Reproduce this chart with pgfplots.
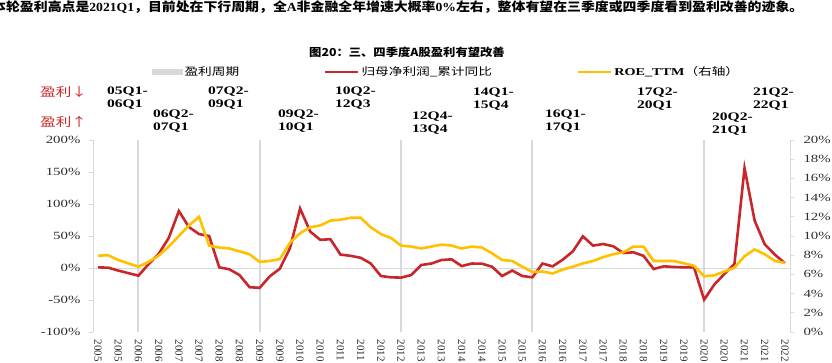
\documentclass[border=0pt]{standalone}
\usepackage{fontspec}
\usepackage{pgfplots}
\pgfplotsset{compat=1.18}
\setmainfont{Liberation Serif}
\newfontfamily\cjkA{Noto Sans CJK SC}[FakeStretch=1.12]
\newfontfamily\cjkW{Noto Sans CJK SC}[FakeStretch=1.3]
\newfontfamily\serW{Liberation Serif}[FakeStretch=1.35]
\newfontfamily\serA{Liberation Serif}[FakeStretch=1.1]
\definecolor{redl}{RGB}{200,38,43}
\definecolor{yell}{RGB}{255,192,0}
\definecolor{gridgray}{RGB}{217,217,217}
\definecolor{cyclegray}{RGB}{217,217,217}
\definecolor{tickcol}{RGB}{45,45,45}
\definecolor{labred}{RGB}{200,40,40}
\newcommand\cyc[4]{\node[anchor=north west, align=left, inner sep=0pt, font=\fontsize{11.5}{12.5}\selectfont\serW\bfseries] at (#1pt,-#2pt) {#3\\#4};}
\begin{document}
\begin{tikzpicture}
\useasboundingbox (0pt,0pt) rectangle (832pt,-362pt);
\clip (0pt,0pt) rectangle (832pt,-362pt);
\node[anchor=west, inner sep=0pt] at (-8pt,-7pt) {\fontsize{12.4}{14}\selectfont\cjkA\bfseries 本轮盈利高点是{\serA 2021Q1}，目前处在下行周期，全{\serA A}非金融全年增速大概率{\serA 0\%}左右，整体有望在三季度或四季度看到盈利改善的迹象。};
\node at (407pt,-52pt) {\fontsize{11}{13}\selectfont\cjkA\bfseries 图20：三、四季度A股盈利有望改善};
\node[anchor=west, inner sep=0pt, text=labred] at (40pt,-92pt) {\fontsize{12}{13}\selectfont\cjkW 盈利↓};
\node[anchor=west, inner sep=0pt, text=labred] at (40pt,-122pt) {\fontsize{12}{13}\selectfont\cjkW 盈利↑};
\cyc{107}{87}{05Q1-}{06Q1}
\cyc{153}{110}{06Q2-}{07Q1}
\cyc{208}{87}{07Q2-}{09Q1}
\cyc{278}{110}{09Q2-}{10Q1}
\cyc{335}{87}{10Q2-}{12Q3}
\cyc{412}{112}{12Q4-}{13Q4}
\cyc{473}{88}{14Q1-}{15Q4}
\cyc{545}{110}{16Q1-}{17Q1}
\cyc{637}{88}{17Q2-}{20Q1}
\cyc{712}{113}{20Q2-}{21Q1}
\cyc{753}{88}{21Q2-}{22Q1}
\begin{axis}[
  at={(93pt,-332pt)}, anchor=south west, scale only axis,
  width=697pt, height=192pt,
  xmin=-0.5, xmax=68.5, ymin=-100, ymax=200,
  axis x line*=bottom, axis y line*=left,
  x axis line style={draw=none},
  y axis line style={draw=gridgray, line width=0.8pt},
  tick align=outside, major tick length=4pt,
  ytick={-100,-50,...,200},
  yticklabels={-100\%,-50\%,0\%,50\%,100\%,150\%,200\%},
  ytick style={draw=gridgray, line width=0.8pt},
  yticklabel style={font=\fontsize{11}{12}\selectfont\serW, text=tickcol, xshift=-5pt},
  xtick={0,2,...,68},
  xticklabels={2005,2005,2006,2006,2007,2007,2008,2008,2009,2009,2010,2010,2011,2011,2012,2012,2013,2013,2014,2014,2015,2015,2016,2016,2017,2017,2018,2018,2019,2019,2020,2020,2021,2021,2022},
  xtick style={draw=none},
  xticklabel style={rotate=-90, anchor=west, font=\fontsize{11}{12}\selectfont, text=tickcol},
  extra x ticks={4,16,30,43,60},
  extra x tick labels={},
  extra x tick style={grid=major, major grid style={draw=cyclegray, line width=2pt}, tick style={draw=none}},
  extra y ticks={0},
  extra y tick labels={},
  extra y tick style={grid=major, major grid style={draw=gridgray, line width=0.8pt}, tick style={draw=none}},
  legend image code/.code={\draw[#1, line width=2.4pt] (0pt,0pt) -- (33pt,0pt);},
  legend style={draw=none, fill=none, inner sep=0pt, at={(0.0846,1.354)}, anchor=west,
    font=\fontsize{10.5}{12}\selectfont, /tikz/every even column/.append style={column sep=83pt}},
  legend columns=3, legend cell align=left,
]
\addlegendimage{legend image code/.code={\fill[cyclegray] (0pt,-2.5pt) rectangle (30pt,2.5pt);}}
\addlegendentry{\cjkW 盈利周期}
\addplot[redl, line width=2.6pt] coordinates {
(0,1)(1,0.5)(2,-4)(3,-8)(4,-12)(5,6)(6,22)(7,47)(8,89)(9,64)(10,53)(11,50)(12,1)(13,-2)(14,-11)(15,-30)(16,-31)(17,-13)(18,-1)(19,31)(20,93)(21,57)(22,44)(23,45)(24,21)(25,19)(26,16)(27,7)(28,-12.5)(29,-14.6)(30,-15)(31,-11)(32,4.7)(33,7)(34,12.5)(35,13.5)(36,3)(37,7)(38,6.8)(39,2)(40,-12.5)(41,-4)(42,-12.5)(43,-14.6)(44,7)(45,2.6)(46,13)(47,26)(48,49.5)(49,35)(50,37.5)(51,34)(52,23.4)(53,24.5)(54,19)(55,-1.6)(56,2.6)(57,1.6)(58,1)(59,1)(60,-49.5)(61,-26)(62,-9.4)(63,6.3)(64,156)(65,74)(66,37)(67,21)(68,7.5)};
\addlegendentry{\cjkW 归母净利润\_累计同比}
\addlegendimage{yell, line width=2.4pt}
\addlegendentry{{\serW\bfseries ROE\_TTM}{\cjkW （右轴）}}
\end{axis}
\begin{axis}[
  at={(93pt,-332pt)}, anchor=south west, scale only axis,
  width=697pt, height=192pt,
  xmin=-0.5, xmax=68.5, ymin=0, ymax=20,
  axis x line=none, axis y line*=right,
  y axis line style={draw=gridgray, line width=0.8pt},
  tick align=outside, major tick length=4pt,
  ytick={0,2,...,20},
  yticklabels={0\%,2\%,4\%,6\%,8\%,10\%,12\%,14\%,16\%,18\%,20\%},
  ytick style={draw=gridgray, line width=0.8pt},
  yticklabel style={font=\fontsize{11}{12}\selectfont\serW, text=tickcol, xshift=6pt},
]
\addplot[yell, line width=2.6pt] coordinates {
(0,7.95)(1,8)(2,7.5)(3,7.15)(4,6.8)(5,7.3)(6,7.95)(7,8.9)(8,10)(9,11.1)(10,12)(11,9)(12,8.8)(13,8.7)(14,8.4)(15,8.1)(16,7.3)(17,7.4)(18,7.6)(19,9.3)(20,10.3)(21,10.9)(22,11.1)(23,11.6)(24,11.7)(25,11.9)(26,11.9)(27,10.9)(28,10.2)(29,9.8)(30,9)(31,8.9)(32,8.7)(33,8.9)(34,9.1)(35,9)(36,8.7)(37,8.9)(38,8.8)(39,8.2)(40,7.5)(41,7.4)(42,6.8)(43,6.25)(44,6.3)(45,6.1)(46,6.5)(47,6.8)(48,7.15)(49,7.4)(50,7.8)(51,8.1)(52,8.3)(53,8.9)(54,8.9)(55,7.4)(56,7.4)(57,7.4)(58,7.15)(59,6.9)(60,5.8)(61,5.9)(62,6.3)(63,6.7)(64,7.9)(65,8.6)(66,8.1)(67,7.4)(68,7.2)};
\end{axis}
\end{tikzpicture}
\end{document}
